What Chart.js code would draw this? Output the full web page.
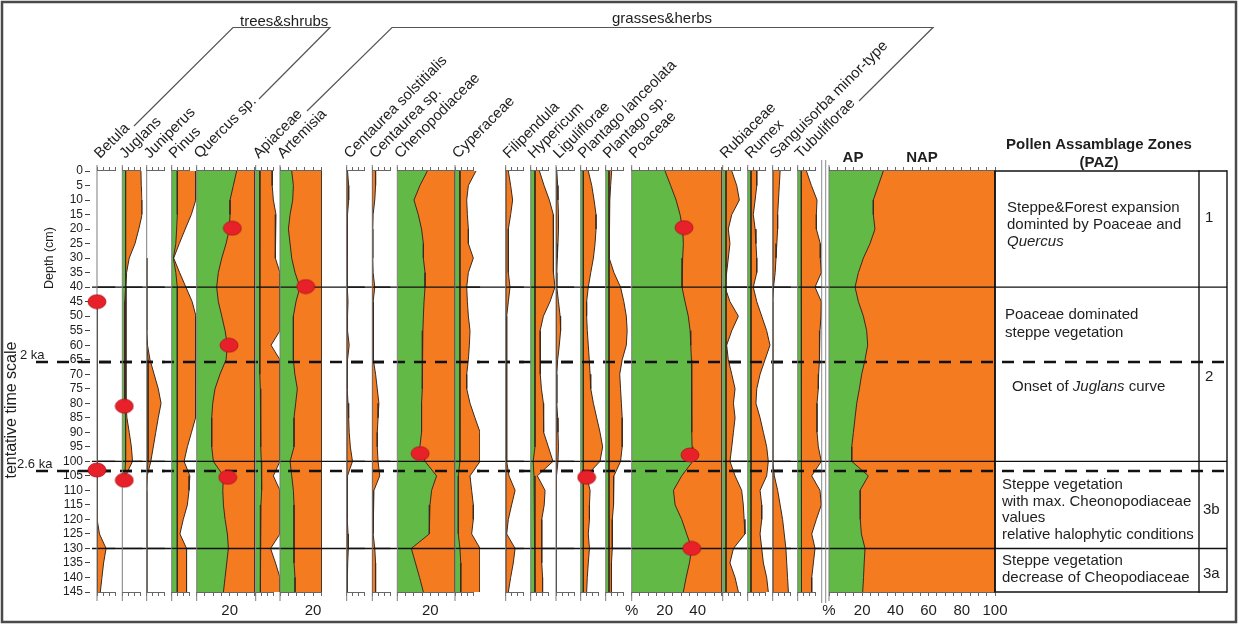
<!DOCTYPE html>
<html><head><meta charset="utf-8">
<script src="https://cdn.jsdelivr.net/npm/chart.js"></script>
<style>
html,body{margin:0;padding:0;background:#fff;}
#wrap{position:relative;width:1239px;height:625px;overflow:hidden;background:#fff;}
#wrap canvas{position:absolute;}
</style></head>
<body><div id="wrap"></div>
<script>
// ---------------- DATA ----------------
const depths = [0,5,10,15,20,25,30,35,40,45,50,55,60,65,70,75,80,85,90,95,100,105,110,115,120,125,130,135,140,145];
const depthTicks = [0,5,10,15,20,25,30,35,40,45,50,55,60,65,70,75,80,85,90,95,100,105,110,115,120,125,130,135,140,145];
const zoneSolid = [40, 100, 130];
const zoneDashed = [65.8, 103.3];
const zoneDashedLabels = ['2 ka', '2.6 ka'];

const betulaG = [null,null,null,null,null,null,null,null,null,0,0,0,0,0,0,0,0,0,0,0,0,0,0,0,0,0,0,0,0,0];
const betulaO = [null,null,null,null,null,null,null,null,null,0,0,0,0,0,0,0,0,0,0,0,0.3,0.3,0,0,0.5,1.5,5.5,4,3,2];
const betulaDots = [[0,45],[0,103]];

const juglansG = [2,2,2,2,2,2,2,2,2,1.5,1.5,1.5,1.5,1.5,1.5,1.5,1.5,2,2,2,2,1.5,null,null,null,null,null,null,null,null];
const juglansO = [11.3,11.5,12,12,10,7.7,4.2,2.6,2.2,2.2,2.2,2.2,2.2,2.2,2.2,2.2,2.2,2.8,4.2,5.5,6.2,2,null,null,null,null,null,null,null,null];
const juglansDots = [[1.2,81],[1.2,106.5]];

const juniperusG = [null,null,null,null,null,null,0,0,0,0,0,0,0,0.8,0.8,0.8,0.8,0.8,0.8,0.8,0.8,0,0,0,0,0,0,0,0,0];
const juniperusO = [null,null,null,null,null,null,0,0,0,0,0,0,0.5,2,4.5,7,8.7,7,5.5,4,2.5,0.3,0,0,0,0,0,0,0,0];

const pinusG = [3.4,3.4,3.4,3.4,3,2.5,1,2.5,3.4,3.4,3.4,3.4,3.4,3.4,3.4,3.4,3.4,3.4,3.4,3.4,3.4,3.4,3.4,3.4,3.4,3.4,3.4,3.4,3.4,3.4];
const pinusO = [14.7,14.7,14.5,11.9,8.2,4.6,1.2,4.8,8.6,12.4,14.7,14.7,14.5,14.2,14.2,14.5,14.7,14.5,12,9.5,7.5,11,10.5,9.5,7,5,9,9,9,9];

const quercusG = [24.2,22.2,20.2,20.2,19.8,17.8,15.2,13.1,12.1,13.1,15.2,17.2,18.6,17.8,14.1,11.1,9.7,9.1,9.1,9.1,10.1,16.2,15.8,16.2,17.2,18.6,19.2,18.2,17.2,16.2];
const quercusO = [35.3,35.3,35.3,35.3,35.3,35.3,35.3,35.3,35.3,35.3,35.3,35.3,35.3,35.3,35.3,35.3,35.3,35.3,35.3,35.3,35.3,35.3,35.3,35.3,35.3,35.3,35.3,35.3,35.3,35.3];
const quercusDots = [[21.6,19.7],[19.6,60],[18.8,105.5]];

const apiaceaeG = [2.6,2.6,2.6,2.6,2.6,2.6,2.6,2.4,2.2,2.2,2.2,2.4,2.6,2.6,2.6,2.8,3,3,3,3.2,3.4,3.6,3.6,3.2,3,2.8,2.8,2.8,2.8,2.8];
const apiaceaeO = [10,10,10.7,12.3,12.3,11.7,11.7,14.7,14.7,14.7,14.7,14.7,9.3,14.7,14.7,14.7,14.7,14.7,14.7,14.7,14.7,10.7,14.7,14.7,14.7,14.7,9,12,14.7,14.7];

const artemisiaG = [7.1,8.1,7.7,6.1,5.1,6.1,7.1,9.1,12.1,9.7,8.1,8.1,8.1,8.1,9,10.5,9.5,8.5,8.5,8.5,6.1,7.1,8.1,8.5,8.5,8.5,8.5,8.5,9.1,9.1];
const artemisiaO = [25.3,25.3,25.3,25.3,25.3,25.3,25.3,25.3,25.3,25.3,25.3,25.3,25.3,25.3,25.3,25.3,25.3,25.3,25.3,25.3,25.3,25.3,25.3,25.3,25.3,25.3,25.3,25.3,25.3,25.3];
const artemisiaDots = [[15.6,39.8]];

const centSolG = [0,0,0,0,0,0,0,0,0,0,0,0,0,0,0,0,0,0,0,0,0,0,0,0,0,0,0,0,0,0];
const centSolO = [0.5,1.2,1.2,0.5,0.3,0.3,0.3,0.3,0.6,0.8,0.5,0.5,1.5,0.5,0.3,0.3,0.8,1.2,1.5,2.2,3.5,0.5,0.3,0.3,0.5,0.8,1,0.6,0.3,0.2];

const centSpG = [0,0,0,0,0,0,0,0,0,0,0,0,0,0,0,0,0,0,0,0,0,0,0,0,0,0,0,0,0,0];
const centSpO = [2,2,1.5,0.5,0.3,0.3,0.3,0.5,1.5,0.5,0.5,0.5,0.5,1,2,3,4,3.5,3,3,3.5,4.5,1,0.5,0.5,0.5,1.5,2,2,2];

const chenoG = [18.2,13.7,10.1,12.7,14.7,15.8,15.8,16.8,16.8,16.2,15.8,15.5,15.2,15.2,15.2,15,14.7,14.7,14.7,13.7,16.8,23.8,20.8,19.8,19.4,19.4,8.5,11,13.5,15.8];
const chenoO = [35,35,35,35,35,35,35,35,35,35,35,35,35,35,35,35,35,35,35,35,35,35,35,35,35,35,35,35,35,35];
const chenoDots = [[13.8,97.3]];

const cyperG = [3,3,3,3,3,3,3,3,3,3,3,3,3,3,3,3,3,3,3,3,2.5,2,2,2,2,2,3,3.5,3.5,3.5];
const cyperO = [12.7,8.1,7.1,7.5,8.1,8.1,11.1,8.1,7.1,7.5,8.1,9.1,8.7,8.1,7.1,7.1,9.1,12.1,15.2,15.2,15.2,9.1,10.1,11.1,11.1,10.1,15.2,15.2,15.2,15.2];

const filipG = [0,0,0,0,0,0,0,0,0,0,0,0,0,0,0,0,0,0,0,0,0,0,0,0,0,0,0,0,0,0];
const filipO = [1.6,3,4.2,3,1.6,1.6,1.6,1.6,2.6,1.6,0.6,0.6,0.6,0.6,0.6,0.6,0.6,0.6,0.6,0.6,0.6,2,5.7,3.6,1.6,0.6,5.7,4.6,3,1.6];

const hyperG = [2.6,2.6,2.6,2.6,2.6,2.6,2.6,2.6,2.6,2.6,2.6,2.6,2.6,2.6,2.6,2.6,2.6,2.6,2.6,2.6,1.5,2,2.6,2.6,2.6,2.6,2.6,2.6,2.6,2.6];
const hyperO = [5.3,8.1,11.3,13.7,13.7,13.7,13.7,14,14.7,11.7,7.7,5.7,5.7,5.7,6,6.5,7.7,7.7,8,10.7,13.5,4,8.7,8.2,6.7,6.7,6.7,6.7,7.2,7.2];

const ligulG = [0,0,0,0,0,0,0,0,0,0,0,0,0,0,0,0,0,0,0,0,0,0,0,0,0,0,0,0,0,0];
const ligulO = [0.5,1,1.2,1.5,1.5,1.2,0.8,0.5,0.5,1.5,2.5,2.8,2,1,0.5,0.5,0.5,1,1.2,1.5,1.2,0.3,0.3,0.3,0.3,0.3,0.3,0.3,0.3,0.3];

const plLancG = [1.6,1.6,1.6,1.6,1.6,1.6,1.6,1.6,1.6,1.6,1.6,1.6,1.6,1.6,1.6,1.6,1.6,1.6,1.6,1.6,1.6,1.6,1.6,1.6,1.6,1.6,1.6,1.6,1.6,1.6];
const plLancO = [4.6,6.7,8.1,9.3,9.3,8.7,7.7,6.1,4.6,3.6,3.6,4,4.6,5.2,5.7,6.1,7.7,9.7,11.7,13.3,11.7,3.5,5.7,5.3,5.3,4.6,5.3,4.6,4,3.6];
const plLancDots = [[3.6,105.5]];

const plSpG = [2,2,2,2,2,2,2,2,2,2,2,2,2,2,2,2,2,2,2,2,2,2,2,2,2,2,2,2,2,2];
const plSpO = [3.6,3,2.5,2,2,2,2.5,5,9,11,12.5,13,12.5,10,8.5,9,9.5,10,10,10,9,5,5,4.5,4,4,4,3.5,3.5,3.5];

const poaceaeG = [20.2,23.6,26.9,29.3,30.9,31.3,30.9,30.5,30.5,32.3,34.3,35.4,35.8,36.2,36.4,36.4,36.4,36.4,36.4,36.6,37,30.3,25.3,26.3,30.3,33.3,36.4,35,33,31.3];
const poaceaeO = [54.5,54.5,54.5,54.5,54.5,54.5,54.5,54.5,54.5,54.5,54.5,54.5,54.5,54.5,54.5,54.5,54.5,54.5,54.5,54.5,54.5,54.5,54.5,54.5,54.5,54.5,54.5,54.5,54.5,54.5];
const poaceaeDots = [[31.7,19.5],[35.3,97.8],[36.4,130]];

const rubiG = [2,2,2,2,2,2,2,2,2,2,2,2,2,2,2,2,2,2,2,2,2,2,2,2,2,2,2,2,2,2];
const rubiO = [5.5,8.5,10.1,5.5,3.4,4.4,3.4,2.4,1.4,4.4,9.5,5.5,2.4,3.4,5.5,7.5,6.5,7.5,6.5,5.5,4.4,7.5,11.5,12.5,13,13.5,6.5,4.4,7.5,9.5];

const rumexG = [2,2,2,2,2,2,2,2,2,2,2,2,2,2,2,2,2,2,2,2,2,2,2,2,2,2,2,2,2,2];
const rumexO = [5.5,5.5,4.5,3.4,4.5,5,5.5,5.5,3.4,5.5,8.5,11.5,13.5,10.5,7.5,5.5,5,7.5,9.5,11.5,12.5,11.5,7.5,8.5,8.5,7.5,8.5,9.5,11.5,12.5];

const sangG = [0,0,0,0,0,0,0,0,0,0,0,0,0,0,0,0,0,0,0,0,0,0,0,0,0,0,0,0,0,0];
const sangO = [4.5,4,3.5,3,3,2.5,2,1.5,0.5,0,0,0,0,0,0,0,0,0,0,0,0,1,3,4.5,6,7,8,8.5,9,9.5];

const tubulG = [2,2,2,2,2,2,2,2,2.4,2.4,2.4,2.4,2.4,2.4,2.4,2.4,2.4,2.4,2.4,2.4,2.4,2.4,2.4,2.4,2.4,2.4,2.4,2.4,2.4,2.4];
const tubulO = [5.3,8.3,11.7,11.3,11.3,13.7,13.7,14.3,10.5,14.3,14.1,13.5,13.3,13.1,12.7,12.5,11.7,11.7,11.7,12.5,14.3,8.5,13.5,14.3,11.3,8.5,10.5,9.5,8.5,8.5];

const apValues = [32.7,29.7,26.7,26.7,27.7,24.7,20.7,17.7,15.7,17.7,20.7,22.7,23.3,21.7,19.7,18.3,16.7,15.7,14.7,13.7,13.7,23.7,18.7,18.7,19,19.5,21.7,21.2,20.8,20.3];
const napTotal = [100,100,100,100,100,100,100,100,100,100,100,100,100,100,100,100,100,100,100,100,100,100,100,100,100,100,100,100,100,100];

const pctLabels = {0:'%', 20:'20', 40:'40'};
const apLabels = {0:'%', 20:'20', 40:'40', 60:'60', 80:'80', 100:'100'};
const twentyLabel = {20:'20'};

// ---------------- LAYOUT / STYLE ----------------
const FONT = "'Liberation Sans', Arial, Helvetica, sans-serif";
const GREEN = '#63b946';
const ORANGE = '#f47b20';
const EDGE = '#3a2a1e';
const TXT = '#1e1e1e';

const panels = [
  {name:'Betula', left:97, max:11, ruler:11, green:betulaG, orange:betulaO, dots:betulaDots},
  {name:'Juglans', left:122.3, max:12.2, ruler:11, green:juglansG, orange:juglansO, dots:juglansDots},
  {name:'Juniperus', left:146.7, max:11, ruler:11, green:juniperusG, orange:juniperusO},
  {name:'Pinus', left:171.7, max:15, ruler:11, green:pinusG, orange:pinusO},
  {name:'Quercus sp.', left:196.7, max:35.3, ruler:35.3, green:quercusG, orange:quercusO, dots:quercusDots, labels:twentyLabel},
  {name:'Apiaceae', left:255.7, max:14.7, ruler:11, green:apiaceaeG, orange:apiaceaeO},
  {name:'Artemisia', left:280, max:25.3, ruler:25.3, green:artemisiaG, orange:artemisiaO, dots:artemisiaDots, labels:twentyLabel},
  {name:'Centaurea solstitialis', left:346.7, max:11, ruler:11, green:centSolG, orange:centSolO},
  {name:'Centaurea sp.', left:372.3, max:11, ruler:11, green:centSpG, orange:centSpO},
  {name:'Chenopodiaceae', left:397.3, max:35, ruler:35, green:chenoG, orange:chenoO, dots:chenoDots, labels:twentyLabel},
  {name:'Cyperaceae', left:455, max:15.2, ruler:11, green:cyperG, orange:cyperO},
  {name:'Filipendula', left:505.7, max:11, ruler:11, green:filipG, orange:filipO},
  {name:'Hypericum', left:530.7, max:15, ruler:11, green:hyperG, orange:hyperO},
  {name:'Liguliflorae', left:556, max:11, ruler:11, green:ligulG, orange:ligulO},
  {name:'Plantago lanceolata', left:580.7, max:15, ruler:11, green:plLancG, orange:plLancO, dots:plLancDots},
  {name:'Plantago sp.', left:605.7, max:15, ruler:11, green:plSpG, orange:plSpO},
  {name:'Poaceae', left:631.7, max:54.5, ruler:54.5, green:poaceaeG, orange:poaceaeO, dots:poaceaeDots, labels:pctLabels},
  {name:'Rubiaceae', left:722.7, max:15, ruler:11, green:rubiG, orange:rubiO},
  {name:'Rumex', left:747.7, max:15, ruler:11, green:rumexG, orange:rumexO},
  {name:'Sanguisorba minor-type', left:772.7, max:11, ruler:11, green:sangG, orange:sangO},
  {name:'Tubuliflorae', left:797.7, max:14.5, ruler:11, green:tubulG, orange:tubulO},
  {name:null, left:829, max:100, ruler:100, px:1.66, green:apValues, orange:napTotal, labels:apLabels, rightLine:true}
];

const DASH = [12, 9], DASH_START = 36;
const wrap = document.getElementById('wrap');

function seg(ctx, x1, y1, x2, y2) { ctx.beginPath(); ctx.moveTo(x1, y1); ctx.lineTo(x2, y2); ctx.stroke(); }

function rich(ctx, x, y, parts, size) {
  let cx = x;
  for (const [t, it] of parts) {
    ctx.font = (it ? 'italic ' : '') + size + 'px ' + FONT;
    ctx.fillText(t, cx, y);
    cx += ctx.measureText(t).width;
  }
}

// ---------------- OVERLAY (bottom layer: depth axis, headers, zones, table) ----------------
const ovCanvas = document.createElement('canvas');
ovCanvas.width = 1239; ovCanvas.height = 625;
ovCanvas.style.left = '0px'; ovCanvas.style.top = '0px';
wrap.appendChild(ovCanvas);

const overlayPlugin = {
  id: 'overlay',
  afterDraw(chart) {
    const ctx = chart.ctx;
    const ys = chart.scales.y;
    const Y = d => ys.getPixelForValue(d);
    ctx.save();
    ctx.strokeStyle = '#4a4a4a'; ctx.lineWidth = 2.5;
    ctx.strokeRect(2, 2, 1234, 620);

    ctx.strokeStyle = '#111'; ctx.lineWidth = 1.4;
    zoneSolid.forEach(d => seg(ctx, 92, Y(d), 1227, Y(d)));
    seg(ctx, 995, Y(0), 1227, Y(0));
    seg(ctx, 995, Y(145), 1227, Y(145));
    [995, 1199, 1227].forEach(xv => seg(ctx, xv, Y(0) - 0.7, xv, Y(145) + 0.7));
    ctx.lineWidth = 2.6; ctx.setLineDash(DASH); ctx.lineDashOffset = 0;
    zoneDashed.forEach(d => seg(ctx, DASH_START, Y(d), 1227, Y(d)));
    ctx.setLineDash([]);

    ctx.strokeStyle = '#8c8c8c'; ctx.lineWidth = 1;
    seg(ctx, 821.7, 160, 821.7, 603); seg(ctx, 825.7, 160, 825.7, 603);

    ctx.fillStyle = TXT;
    ctx.font = '13px ' + FONT; ctx.textAlign = 'left'; ctx.textBaseline = 'alphabetic';
    ctx.fillText(zoneDashedLabels[0], 20, Y(zoneDashed[0]) - 3);
    ctx.fillText(zoneDashedLabels[1], 17, Y(zoneDashed[1]) - 3);

    ctx.save(); ctx.translate(50, 258); ctx.rotate(-Math.PI / 2);
    ctx.textAlign = 'center'; ctx.textBaseline = 'middle'; ctx.font = '12.5px ' + FONT;
    ctx.fillText('Depth (cm)', 0, 0); ctx.restore();
    ctx.save(); ctx.translate(12, 410); ctx.rotate(-Math.PI / 2);
    ctx.textAlign = 'center'; ctx.textBaseline = 'middle'; ctx.font = '16px ' + FONT;
    ctx.fillText('tentative time scale', 0, 0); ctx.restore();

    ctx.font = '15px ' + FONT; ctx.textAlign = 'left'; ctx.textBaseline = 'alphabetic';
    panels.forEach(p => {
      if (!p.name) return;
      ctx.save(); ctx.translate(p.left + 3, 159); ctx.rotate(-Math.PI / 4);
      ctx.fillText(p.name, 0, 0); ctx.restore();
    });

    ctx.strokeStyle = '#555'; ctx.lineWidth = 1.2;
    ctx.beginPath(); ctx.moveTo(134, 126); ctx.lineTo(233, 27.5); ctx.lineTo(330, 27.5); ctx.lineTo(259, 99); ctx.stroke();
    ctx.beginPath(); ctx.moveTo(307, 111); ctx.lineTo(392, 27.5); ctx.lineTo(933, 27.5); ctx.lineTo(859, 101); ctx.stroke();
    ctx.fillText('trees&shrubs', 240, 26);
    ctx.fillText('grasses&herbs', 612, 23);

    ctx.font = 'bold 15px ' + FONT; ctx.textAlign = 'center'; ctx.textBaseline = 'middle';
    ctx.fillText('AP', 853, 158);
    ctx.fillText('NAP', 922, 158);
    ctx.fillText('Pollen Assamblage Zones', 1099, 145);
    ctx.fillText('(PAZ)', 1099, 163);

    ctx.textAlign = 'left'; ctx.textBaseline = 'middle';
    const F = 15;
    const r0 = Y(0), r1 = Y(zoneSolid[0]), rd = Y(zoneDashed[0]), r2 = Y(zoneSolid[1]), r3 = Y(zoneSolid[2]);
    rich(ctx, 1007, r0 + 37, [['Steppe&Forest expansion', false]], F);
    rich(ctx, 1007, r0 + 54, [['dominted by Poaceae and', false]], F);
    rich(ctx, 1007, r0 + 71, [['Quercus', true]], F);
    rich(ctx, 1005, r1 + 28, [['Poaceae dominated', false]], F);
    rich(ctx, 1005, r1 + 46, [['steppe vegetation', false]], F);
    rich(ctx, 1012, rd + 25, [['Onset of ', false], ['Juglans', true], [' curve', false]], F);
    rich(ctx, 1002, r2 + 24, [['Steppe vegetation', false]], F);
    rich(ctx, 1002, r2 + 41, [['with max. Cheonopodiaceae', false]], F);
    rich(ctx, 1002, r2 + 57, [['values', false]], F);
    rich(ctx, 1002, r2 + 74, [['relative halophytic conditions', false]], F);
    rich(ctx, 1002, r3 + 12, [['Steppe vegetation', false]], F);
    rich(ctx, 1002, r3 + 29, [['decrease of Cheopodiaceae', false]], F);
    rich(ctx, 1205, r0 + 47, [['1', false]], F);
    rich(ctx, 1205, rd + 15, [['2', false]], F);
    rich(ctx, 1203, r2 + 49, [['3b', false]], F);
    rich(ctx, 1203, r3 + 25, [['3a', false]], F);
    ctx.restore();
  }
};

new Chart(ovCanvas, {
  type: 'line',
  data: { datasets: [] },
  options: {
    responsive: false, animation: false, events: [],
    layout: { padding: { left: 0, top: 171, right: 11, bottom: 33 } },
    plugins: { legend: { display: false }, tooltip: { enabled: false } },
    scales: {
      x: { type: 'linear', display: false, min: 0, max: 1 },
      y: {
        type: 'linear', position: 'left', reverse: true, min: 0, max: 145,
        afterFit: s => { s.width = 90; },
        afterBuildTicks: s => { s.ticks = depthTicks.map(v => ({ value: v })); },
        border: { display: false },
        grid: { drawOnChartArea: false, tickLength: 5, color: '#444', lineWidth: 1 },
        ticks: { autoSkip: false, padding: 2, color: TXT, font: { family: FONT, size: 12 } }
      }
    }
  },
  plugins: [overlayPlugin]
});

// ---------------- PANELS ----------------
const dotImg = (() => {
  const c = document.createElement('canvas'); c.width = 20; c.height = 16;
  const g = c.getContext('2d');
  g.beginPath(); g.ellipse(10, 8, 9, 7, 0, 0, Math.PI * 2);
  g.fillStyle = '#e8202a'; g.fill();
  g.lineWidth = 0.8; g.strokeStyle = '#a8141b'; g.stroke();
  return c;
})();

function rulerTicks(R) {
  if (R <= 12) return [0, R / 3, 2 * R / 3, R];
  const t = [];
  for (let v = 0; v <= R + 1e-9; v += 5) t.push(v);
  if (R - t[t.length - 1] > 1) t.push(R);
  return t;
}

function makePanel(p) {
  const px = p.px || 1.65;
  const areaW = p.max * px;
  const cvLeft = Math.floor(p.left - 22);
  const padL = p.left - cvLeft;
  const W = Math.ceil(padL + areaW + 22);
  const padR = W - padL - areaW;
  const TOP = 140, H = 485;
  const cv = document.createElement('canvas');
  cv.width = W; cv.height = H;
  cv.style.left = cvLeft + 'px'; cv.style.top = TOP + 'px';
  wrap.appendChild(cv);

  const deco = {
    id: 'deco',
    afterDatasetDraw(chart, args) {
      if (args.index !== 1) return;
      const { ctx, chartArea: a, scales } = chart;
      const x = scales.x, y = scales.y;
      const x0 = x.getPixelForValue(0);
      ctx.save();
      ctx.strokeStyle = '#111'; ctx.lineWidth = 1.4;
      zoneSolid.forEach(d => { const py = y.getPixelForValue(d); seg(ctx, a.left, py, a.right, py); });
      ctx.lineWidth = 2.6; ctx.setLineDash(DASH);
      const per = DASH[0] + DASH[1];
      ctx.lineDashOffset = (((cvLeft + a.left) - DASH_START) % per + per) % per;
      zoneDashed.forEach(d => { const py = y.getPixelForValue(d); seg(ctx, a.left, py, a.right, py); });
      ctx.setLineDash([]);
      ctx.strokeStyle = '#7d7d7d'; ctx.lineWidth = 1;
      seg(ctx, x0, a.top - 6, x0, a.bottom + 9);
      const xr = x.getPixelForValue(p.ruler);
      ctx.strokeStyle = '#666';
      seg(ctx, x0, a.bottom + 0.5, xr, a.bottom + 0.5);
      seg(ctx, x0, a.top - 0.5, xr, a.top - 0.5);
      if (p.rightLine) {
        ctx.strokeStyle = '#111'; ctx.lineWidth = 1.5;
        seg(ctx, a.right, a.top - 0.7, a.right, a.bottom + 0.7);
      }
      ctx.restore();
    }
  };

  const axisCommon = {
    type: 'linear', min: 0, max: p.max,
    afterBuildTicks: s => { s.ticks = rulerTicks(p.ruler).map(v => ({ value: v })); },
    border: { display: false },
    grid: { drawOnChartArea: false, drawTicks: true, tickLength: 4, color: '#666', lineWidth: 1 }
  };

  const datasets = [
    {
      label: 'dots', data: (p.dots || []).map(([vx, vy]) => ({ x: vx, y: vy })),
      showLine: false, pointStyle: dotImg, pointRadius: 9, clip: false,
      xAxisID: 'x', yAxisID: 'y'
    },
    {
      label: 'green', data: depths.map((d, i) => ({ x: p.green[i], y: d })),
      fill: 'origin', backgroundColor: GREEN, borderColor: EDGE, borderWidth: 1,
      pointRadius: 0, tension: 0, xAxisID: 'x', yAxisID: 'y'
    },
    {
      label: 'orange', data: depths.map((d, i) => ({ x: p.orange[i], y: d })),
      fill: 'origin', backgroundColor: ORANGE, borderColor: EDGE, borderWidth: 1,
      pointRadius: 0, tension: 0, xAxisID: 'x', yAxisID: 'y'
    }
  ];

  new Chart(cv, {
    type: 'line',
    data: { datasets },
    options: {
      indexAxis: 'y',
      responsive: false, animation: false, events: [],
      layout: { padding: { left: padL, right: padR, top: 0, bottom: 0 } },
      plugins: { legend: { display: false }, tooltip: { enabled: false } },
      scales: {
        x: Object.assign({}, axisCommon, {
          position: 'bottom',
          afterFit: s => { s.height = 33; },
          ticks: {
            autoSkip: false, maxRotation: 0, padding: 6, color: TXT,
            font: { family: FONT, size: 15 },
            callback: v => (p.labels && p.labels[v] !== undefined) ? p.labels[v] : ''
          }
        }),
        x2: Object.assign({}, axisCommon, {
          position: 'top',
          afterFit: s => { s.height = 31; },
          ticks: { display: false }
        }),
        y: { type: 'linear', display: false, reverse: true, min: 0, max: 145 }
      }
    },
    plugins: [deco]
  });
}

panels.forEach(makePanel);
</script>
</body></html>
